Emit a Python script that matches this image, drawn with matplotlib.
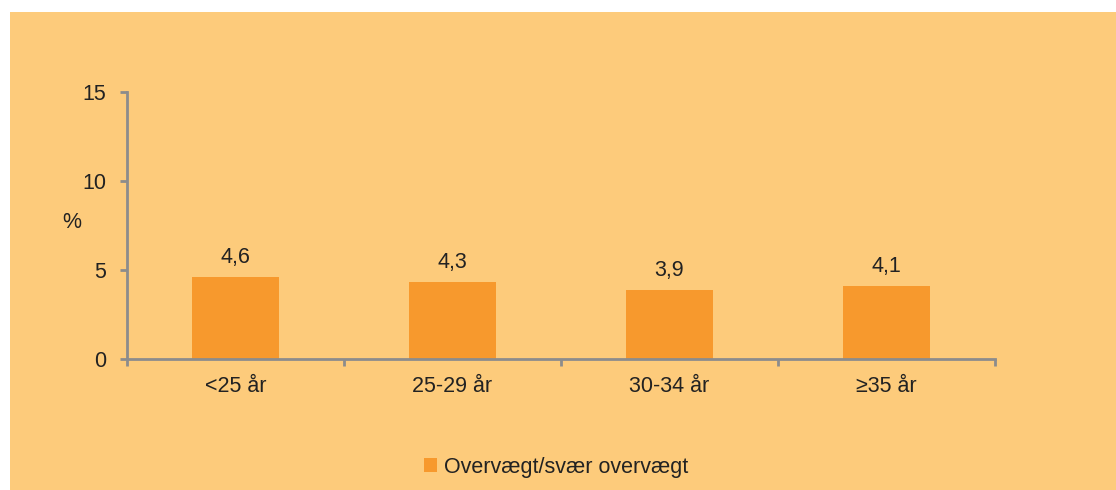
import matplotlib
matplotlib.use("Agg")
import matplotlib.pyplot as plt
from matplotlib.patches import Rectangle
import numpy as np

categories = ["<25 år", "25-29 år", "30-34 år", "≥35 år"]
values = [4.6, 4.3, 3.9, 4.1]
value_labels = ["4,6", "4,3", "3,9", "4,1"]
series_name = "Overvægt/svær overvægt"
y_ticks = [0, 5, 10, 15]

BG = "#FDCB7B"
BAR = "#F7992D"
AXIS = "#8C8C8C"
TEXT = "#222222"
FS = 15.5

plt.rcParams["font.family"] = ["Liberation Sans", "DejaVu Sans"]

W, H = 1116, 490
fig = plt.figure(figsize=(W / 100, H / 100), dpi=100)
fig.patch.set_facecolor("white")
fig.patches.append(Rectangle((10 / W, 0), 1 - 10 / W, (H - 12) / H,
                             transform=fig.transFigure, facecolor=BG,
                             edgecolor="none", zorder=-10))

ax = fig.add_axes([127 / W, (H - 359) / H, (995 - 127) / W, (359 - 92) / H])
ax.set_facecolor("none")
ax.set_zorder(5)

x = np.arange(len(categories))
bars = ax.bar(x, values, width=0.4, color=BAR, label=series_name, zorder=2)
for xi, v, lab in zip(x, values, value_labels):
    ax.annotate(lab, (xi, v), xytext=(0, 6.5), textcoords="offset points",
                ha="center", va="bottom", fontsize=FS, color=TEXT)

ax.set_xlim(-0.5, len(categories) - 0.5)
ax.set_ylim(0, 15)
ax.set_yticks(y_ticks)
ax.set_yticklabels([str(t) for t in y_ticks])
ax.set_xticks(x)
ax.set_xticklabels(categories)
ax.set_xticks(np.arange(-0.5, len(categories)), minor=True)

for s in ["top", "right"]:
    ax.spines[s].set_visible(False)
for s in ["left", "bottom"]:
    ax.spines[s].set_color(AXIS)
    ax.spines[s].set_linewidth(2)

ax.tick_params(axis="y", which="major", direction="out", length=5, width=2,
               color=AXIS, labelsize=FS, labelcolor=TEXT, pad=10)
ax.tick_params(axis="x", which="major", length=0, labelsize=FS,
               labelcolor=TEXT, pad=12)
ax.tick_params(axis="x", which="minor", direction="out", length=5, width=2,
               color=AXIS)

fig.text(72 / W, (H - 222) / H, "%", ha="center", va="center",
         fontsize=FS, color=TEXT)

leg = fig.legend(handles=[bars], labels=[series_name], loc="center",
                 bbox_to_anchor=(556 / W, (H - 467) / H), frameon=False,
                 fontsize=FS, handlelength=0.6, handleheight=0.6,
                 handletextpad=0.3)
for t in leg.get_texts():
    t.set_color(TEXT)

fig.savefig("out.png", dpi=100, facecolor=fig.get_facecolor())
